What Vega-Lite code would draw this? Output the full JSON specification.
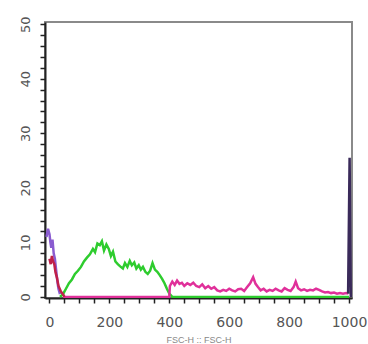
{
  "$schema": "https://vega.github.io/schema/vega-lite/v6.json",
  "width": 307,
  "height": 276,
  "autosize": "none",
  "padding": {"left": 45, "top": 22, "right": 16, "bottom": 46},
  "background": "white",
  "config": {
    "view": {"stroke": "#8a8a8a", "strokeWidth": 2},
    "axis": {"grid": false, "domainColor": "#222", "tickColor": "#222", "labelColor": "#555", "labelFont": "DejaVu Sans", "labelFontSize": 13, "tickSize": 5, "domainWidth": 2, "tickWidth": 1.5}
  },
  "datasets": {
    "hist": [
      {"s": "green", "x": 35, "y": 0}, {"s": "green", "x": 45, "y": 0.5}, {"s": "green", "x": 55, "y": 1.5}, {"s": "green", "x": 65, "y": 2.5}, {"s": "green", "x": 75, "y": 3.2}, {"s": "green", "x": 85, "y": 4.2}, {"s": "green", "x": 95, "y": 4.8}, {"s": "green", "x": 105, "y": 5.5}, {"s": "green", "x": 115, "y": 6.5}, {"s": "green", "x": 125, "y": 7.2}, {"s": "green", "x": 135, "y": 7.8}, {"s": "green", "x": 145, "y": 8.8}, {"s": "green", "x": 152, "y": 8.2}, {"s": "green", "x": 160, "y": 9.8}, {"s": "green", "x": 168, "y": 9.5}, {"s": "green", "x": 175, "y": 10.2}, {"s": "green", "x": 182, "y": 8.5}, {"s": "green", "x": 190, "y": 9.6}, {"s": "green", "x": 198, "y": 8.8}, {"s": "green", "x": 205, "y": 7.5}, {"s": "green", "x": 212, "y": 8.3}, {"s": "green", "x": 220, "y": 6.5}, {"s": "green", "x": 228, "y": 6}, {"s": "green", "x": 236, "y": 5.6}, {"s": "green", "x": 245, "y": 5.2}, {"s": "green", "x": 252, "y": 6.2}, {"s": "green", "x": 260, "y": 5.5}, {"s": "green", "x": 268, "y": 6.6}, {"s": "green", "x": 275, "y": 5.8}, {"s": "green", "x": 283, "y": 6.3}, {"s": "green", "x": 290, "y": 5.2}, {"s": "green", "x": 298, "y": 5.8}, {"s": "green", "x": 305, "y": 5}, {"s": "green", "x": 312, "y": 5.5}, {"s": "green", "x": 320, "y": 4.6}, {"s": "green", "x": 328, "y": 4.2}, {"s": "green", "x": 336, "y": 4.8}, {"s": "green", "x": 344, "y": 6.2}, {"s": "green", "x": 352, "y": 5}, {"s": "green", "x": 360, "y": 4.6}, {"s": "green", "x": 368, "y": 4}, {"s": "green", "x": 376, "y": 3.3}, {"s": "green", "x": 384, "y": 2.5}, {"s": "green", "x": 392, "y": 1.5}, {"s": "green", "x": 400, "y": 0.6}, {"s": "green", "x": 410, "y": 0}, {"s": "green", "x": 1000, "y": 0},
      {"s": "magenta", "x": 45, "y": 0}, {"s": "magenta", "x": 400, "y": 0}, {"s": "magenta", "x": 402, "y": 2}, {"s": "magenta", "x": 410, "y": 2.8}, {"s": "magenta", "x": 418, "y": 2.2}, {"s": "magenta", "x": 426, "y": 3}, {"s": "magenta", "x": 434, "y": 2.4}, {"s": "magenta", "x": 442, "y": 2.6}, {"s": "magenta", "x": 450, "y": 2}, {"s": "magenta", "x": 460, "y": 2.5}, {"s": "magenta", "x": 470, "y": 2.2}, {"s": "magenta", "x": 480, "y": 2.6}, {"s": "magenta", "x": 490, "y": 2}, {"s": "magenta", "x": 500, "y": 1.8}, {"s": "magenta", "x": 510, "y": 2.3}, {"s": "magenta", "x": 520, "y": 1.6}, {"s": "magenta", "x": 530, "y": 2}, {"s": "magenta", "x": 540, "y": 1.5}, {"s": "magenta", "x": 550, "y": 1.8}, {"s": "magenta", "x": 560, "y": 1.2}, {"s": "magenta", "x": 570, "y": 1}, {"s": "magenta", "x": 580, "y": 1.3}, {"s": "magenta", "x": 590, "y": 1.1}, {"s": "magenta", "x": 600, "y": 1.5}, {"s": "magenta", "x": 610, "y": 1.2}, {"s": "magenta", "x": 620, "y": 1}, {"s": "magenta", "x": 630, "y": 1.4}, {"s": "magenta", "x": 640, "y": 1.5}, {"s": "magenta", "x": 650, "y": 1.1}, {"s": "magenta", "x": 660, "y": 1.8}, {"s": "magenta", "x": 670, "y": 2.5}, {"s": "magenta", "x": 680, "y": 3.6}, {"s": "magenta", "x": 688, "y": 2.4}, {"s": "magenta", "x": 696, "y": 1.8}, {"s": "magenta", "x": 705, "y": 1.2}, {"s": "magenta", "x": 715, "y": 1.5}, {"s": "magenta", "x": 725, "y": 1}, {"s": "magenta", "x": 735, "y": 1.3}, {"s": "magenta", "x": 745, "y": 1.1}, {"s": "magenta", "x": 755, "y": 1.5}, {"s": "magenta", "x": 765, "y": 1.2}, {"s": "magenta", "x": 775, "y": 1}, {"s": "magenta", "x": 785, "y": 1.6}, {"s": "magenta", "x": 795, "y": 1.3}, {"s": "magenta", "x": 805, "y": 1.1}, {"s": "magenta", "x": 815, "y": 1.8}, {"s": "magenta", "x": 822, "y": 2.8}, {"s": "magenta", "x": 830, "y": 1.6}, {"s": "magenta", "x": 840, "y": 1.2}, {"s": "magenta", "x": 850, "y": 1.4}, {"s": "magenta", "x": 860, "y": 1.1}, {"s": "magenta", "x": 870, "y": 1.3}, {"s": "magenta", "x": 880, "y": 1.2}, {"s": "magenta", "x": 890, "y": 1.5}, {"s": "magenta", "x": 900, "y": 1.3}, {"s": "magenta", "x": 910, "y": 1}, {"s": "magenta", "x": 920, "y": 0.8}, {"s": "magenta", "x": 930, "y": 0.9}, {"s": "magenta", "x": 940, "y": 0.7}, {"s": "magenta", "x": 950, "y": 0.8}, {"s": "magenta", "x": 960, "y": 0.6}, {"s": "magenta", "x": 970, "y": 0.7}, {"s": "magenta", "x": 980, "y": 0.6}, {"s": "magenta", "x": 990, "y": 0.7}, {"s": "magenta", "x": 998, "y": 0.6},
      {"s": "purple", "x": -10, "y": 11}, {"s": "purple", "x": -5, "y": 12.5}, {"s": "purple", "x": 0, "y": 11.5}, {"s": "purple", "x": 3, "y": 10}, {"s": "purple", "x": 6, "y": 9}, {"s": "purple", "x": 10, "y": 10.5}, {"s": "purple", "x": 14, "y": 8}, {"s": "purple", "x": 18, "y": 7}, {"s": "purple", "x": 22, "y": 5}, {"s": "purple", "x": 26, "y": 3}, {"s": "purple", "x": 30, "y": 1.5}, {"s": "purple", "x": 35, "y": 0.5},
      {"s": "crimson", "x": 0, "y": 7}, {"s": "crimson", "x": 4, "y": 6}, {"s": "crimson", "x": 8, "y": 7.5}, {"s": "crimson", "x": 12, "y": 6.5}, {"s": "crimson", "x": 16, "y": 6}, {"s": "crimson", "x": 20, "y": 4.5}, {"s": "crimson", "x": 25, "y": 3.5}, {"s": "crimson", "x": 30, "y": 2}, {"s": "crimson", "x": 38, "y": 1}, {"s": "crimson", "x": 45, "y": 0.5}, {"s": "crimson", "x": 50, "y": 0},
      {"s": "dark", "x": 997, "y": 0.6}, {"s": "dark", "x": 1002, "y": 25.5}, {"s": "dark", "x": 1006, "y": 0}
    ]
  },
  "data": {"name": "hist"},
  "mark": {"type": "line", "strokeWidth": 2.5, "clip": true, "interpolate": "linear"},
  "encoding": {
    "x": {
      "field": "x", "type": "quantitative",
      "scale": {"domain": [-15, 1010], "nice": false, "zero": false},
      "axis": {
        "values": [0, 50, 100, 150, 200, 250, 300, 350, 400, 450, 500, 550, 600, 650, 700, 750, 800, 850, 900, 950, 1000],
        "labelExpr": "datum.value % 200 === 0 ? datum.label : ''",
        "format": "d", "labelPadding": 12, "labelFontSize": 14,
        "title": "FSC-H :: FSC-H", "titleFontSize": 9, "titleColor": "#888", "titleFontWeight": "normal", "titlePadding": 6
      }
    },
    "y": {
      "field": "y", "type": "quantitative",
      "scale": {"domain": [-0.2, 50.4], "nice": false, "zero": false},
      "axis": {
        "values": [0, 2, 4, 6, 8, 10, 12, 14, 16, 18, 20, 22, 24, 26, 28, 30, 32, 34, 36, 38, 40, 42, 44, 46, 48, 50],
        "labelExpr": "datum.value % 10 === 0 ? datum.label : ''",
        "labelAngle": 270, "labelAlign": "center", "labelBaseline": "bottom", "labelPadding": 8,
        "title": null
      }
    },
    "color": {
      "field": "s", "type": "nominal", "legend": null,
      "scale": {"domain": ["green", "magenta", "purple", "crimson", "dark"], "range": ["#2ecc2e", "#e0309a", "#8a5cd0", "#c0204a", "#3a2a5a"]}
    },
    "order": {"field": "x", "type": "quantitative"}
  }
}
